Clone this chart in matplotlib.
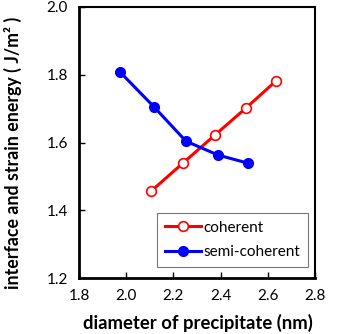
import matplotlib
matplotlib.use("Agg")
import matplotlib.pyplot as plt

plt.rcParams['font.family'] = ['Lato', 'DejaVu Sans']

coherent_d = [2.105, 2.24, 2.376, 2.508, 2.635]
coherent_e = [1.456, 1.539, 1.622, 1.702, 1.782]
semi_d = [1.974, 2.118, 2.253, 2.389, 2.516]
semi_e = [1.808, 1.705, 1.604, 1.563, 1.539]

xticks = [1.8, 2.0, 2.2, 2.4, 2.6, 2.8]
yticks = [1.2, 1.4, 1.6, 1.8, 2.0]

fig = plt.figure(figsize=(3.38, 3.34), dpi=100)
ax = fig.add_axes([79/338, 1 - 278/334, (315-79)/338, (278-7)/334])

ax.plot(coherent_d, coherent_e, color='#ff0000', lw=2.2, marker='o', ms=7,
        mfc='white', mec='#ff0000', mew=1.2, label='coherent')
ax.plot(semi_d, semi_e, color='#0000ff', lw=2.2, marker='o', ms=7,
        mfc='#0000ff', mec='#0000ff', label='semi-coherent')

ax.set_xlim(1.8, 2.8)
ax.set_ylim(1.2, 2.0)
ax.set_xticks(xticks)
ax.set_yticks(yticks)
ax.set_xticklabels([f"{v:.1f}" for v in xticks])
ax.set_yticklabels([f"{v:.1f}" for v in yticks])
ax.tick_params(direction='in', length=4, width=1, labelsize=11, pad=8,
               colors='black')
for s in ax.spines.values():
    s.set_linewidth(1.5)
ax.spines['left'].set_linewidth(2)
ax.spines['bottom'].set_linewidth(2)

ax.set_xlabel('diameter of precipitate (nm)', fontsize=13.3, fontweight='bold')
ax.set_ylabel('interface and strain energy ( J/m² )', fontsize=12.8,
              fontweight='bold')
ax.xaxis.set_label_coords(0.504, -0.132)
ax.yaxis.set_label_coords(-0.24, 0.46)

leg = ax.legend(loc='lower right', bbox_to_anchor=(308/338, 1 - 267/334),
                bbox_transform=fig.transFigure, fontsize=11, frameon=True,
                fancybox=False, edgecolor='#555555', handlelength=2.4,
                handletextpad=0.15, borderpad=0.5, labelspacing=0.7,
                borderaxespad=0)
leg.get_frame().set_linewidth(0.8)

fig.savefig('out.png', dpi=100)
